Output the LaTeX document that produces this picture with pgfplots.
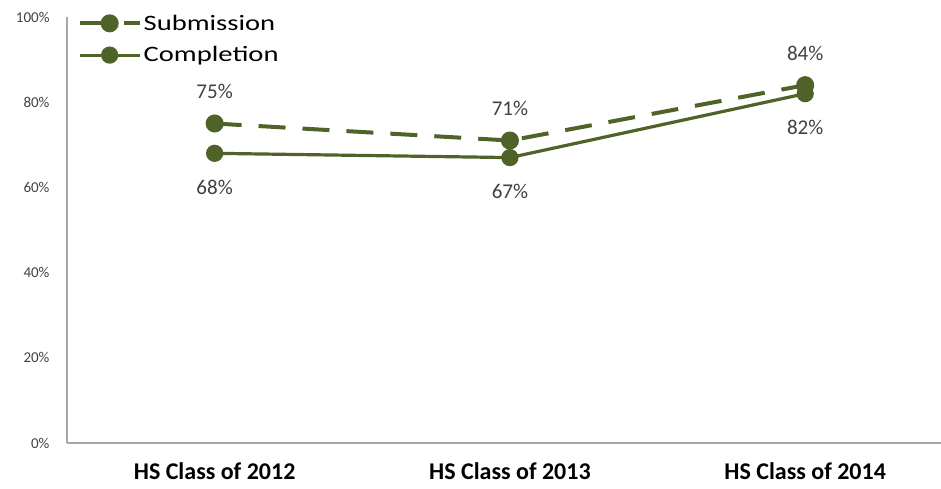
\documentclass[border=0pt]{standalone}
\usepackage{fontspec}
\setmainfont{Carlito}
\newfontfamily\legendfont[FakeStretch=1.3]{Carlito}
\usepackage{pgfplots}
\pgfplotsset{compat=1.18}
\definecolor{olive}{RGB}{79,98,40}
\definecolor{axisgrey}{RGB}{166,166,166}
\definecolor{txtgrey}{RGB}{64,64,64}
\begin{document}
\begin{tikzpicture}
\path[use as bounding box] (0,0) rectangle (941pt,488pt);
\begin{axis}[
  at={(67pt,45pt)}, anchor=south west,
  scale only axis, width=874pt, height=426pt,
  xmin=-0.5, xmax=2.46, ymin=0, ymax=100,
  xtick={0,1,2},
  xticklabels={HS Class of 2012, HS Class of 2013, HS Class of 2014},
  xticklabel style={font=\fontsize{24}{26}\selectfont\bfseries, yshift=-16pt},
  ytick={0,20,40,60,80,100},
  yticklabel={\pgfmathprintnumber{\tick}\%},
  yticklabel style={font=\fontsize{15}{17}\selectfont, text=txtgrey, xshift=-14pt},
  /pgf/number format/assume math mode=true,
  major tick length=0pt,
  axis x line=bottom, axis y line=left,
  axis line style={-, axisgrey, line width=1.2pt},
  point meta=y,
  nodes near coords={\pgfmathprintnumber{\pgfplotspointmeta}\%},
  every node near coord/.append style={font=\fontsize{21}{23}\selectfont, text=txtgrey, anchor=center},
  clip=false,
  legend cell align=left,
  legend style={draw=none, fill=none, at={(0.012,1.01)}, anchor=north west,
    font=\legendfont\fontsize{22}{24}\selectfont, row sep=11pt, inner sep=0pt},
  legend image code/.code={
    \draw[mark repeat=2, mark phase=2] plot coordinates {(0pt,0pt) (30pt,0pt) (60pt,0pt)};
  },
]
\addplot[olive, line width=4pt, dash pattern=on 27pt off 17pt, mark=*,
  mark size=7pt, mark options={solid},
  every node near coord/.append style={yshift=32pt}]
  coordinates {(0,75) (1,71) (2,84)};
\addlegendentry{Submission}
\addplot[olive, line width=3.2pt, mark=*, mark size=7pt,
  every node near coord/.append style={yshift=-34pt}]
  coordinates {(0,68) (1,67) (2,82)};
\addlegendentry{Completion}
\end{axis}
\end{tikzpicture}
\end{document}
